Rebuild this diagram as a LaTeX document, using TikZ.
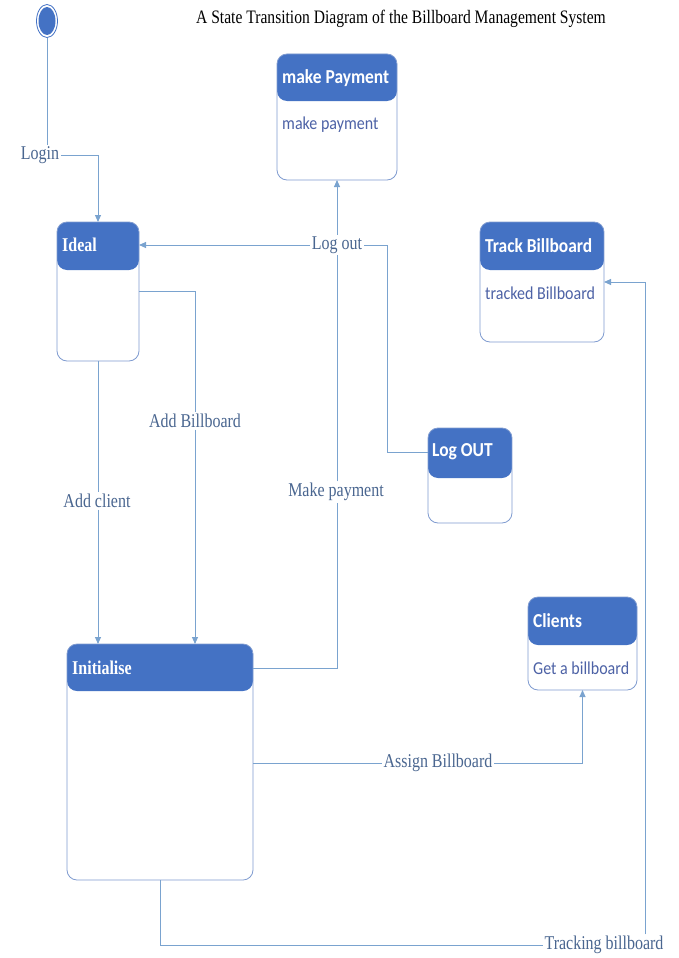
\documentclass[tikz,border=0pt]{standalone}
\usepackage{fontspec}
\setmainfont{Liberation Serif}[FakeStretch=0.82]
\newfontfamily\carlitofont{Carlito}[FakeStretch=0.88]
\usetikzlibrary{arrows.meta,calc,shapes.geometric}
\definecolor{hdr}{HTML}{4472C4}
\definecolor{bordc}{HTML}{7F9BD0}
\definecolor{connc}{HTML}{7AA3CF}
\definecolor{lblc}{HTML}{4A6690}
\definecolor{bodyc}{HTML}{4D62A6}
\begin{document}
\begin{tikzpicture}[x=1pt,y=-1pt,
  sbox/.style={draw=bordc, line width=0.8pt, rounded corners=10pt, fill=white,
    anchor=north west, inner sep=0pt, outer sep=0pt,
    path picture={\fill[hdr] (path picture bounding box.north west) rectangle ([yshift=-#1]path picture bounding box.north east);}},
  sbox/.default=48pt,
  stitle/.style={anchor=west, text=white, font=\bfseries\fontsize{19.5}{21}\selectfont, inner sep=0pt},
  ctitle/.style={anchor=west, text=white, font=\carlitofont\bfseries\fontsize{19.8}{21}\selectfont, inner sep=0pt},
  cbody/.style={anchor=west, text=bodyc, font=\carlitofont\fontsize{18.2}{20}\selectfont, inner sep=0pt},
  conn/.style={draw=connc, line width=0.9pt},
  arr/.style={conn, -{Triangle[width=6pt,length=7pt]}},
  lbl/.style={text=lblc, font=\fontsize{19.5}{21}\selectfont, fill=white, inner sep=1.5pt}
]
\useasboundingbox (0,0) rectangle (678,958);

% title
\node[font=\fontsize{19}{21}\selectfont, inner sep=0pt] (title) at (401,19) {A State Transition Diagram of the Billboard Management System};

% initial state
\node[ellipse, draw=hdr, line width=0.8pt, minimum width=21pt, minimum height=33pt, inner sep=0pt] (init) at (47,21) {};
\node[ellipse, fill=hdr, minimum width=17pt, minimum height=28pt, inner sep=0pt] (initdot) at (47,21) {};

% states
\node[sbox, minimum width=82pt, minimum height=139pt] (ideal) at (57,222) {};
\node[stitle] (idealt) at (62,245) {Ideal};

\node[sbox=47pt, minimum width=120pt, minimum height=126pt] (mp) at (277,54) {};
\node[ctitle] (mpt) at (282,78) {make Payment};
\node[cbody] (mpb) at (282,125) {make payment};

\node[sbox, minimum width=124pt, minimum height=120pt] (tb) at (480,222) {};
\node[ctitle] (tbt) at (485,246) {Track Billboard};
\node[cbody] (tbb) at (485,293) {tracked Billboard};

\node[sbox=50pt, minimum width=84pt, minimum height=95pt] (lo) at (428,428) {};
\node[ctitle] (lot) at (432,452) {Log OUT};

\node[sbox, minimum width=109pt, minimum height=93pt] (cl) at (528,597) {};
\node[ctitle] (clt) at (533,621) {Clients};
\node[cbody] (clb) at (533,668) {Get a billboard};

\node[sbox=47pt, minimum width=186pt, minimum height=236pt] (ini) at (67,644) {};
\node[stitle] (init2) at (72,668) {Initialise};

% labels
\node[lbl] (login) at (40,155) {Login};
\node[lbl] (logoutl) at (337,245) {Log out};
\node[lbl] (addbb) at (195,421) {Add Billboard};
\node[lbl] (addcl) at (97,501) {Add client};
\node[lbl] (mkpay) at (336,492) {Make payment};
\node[lbl] (assign) at (438,763) {Assign Billboard};
\node[lbl] (track) at (604,945) {Tracking billboard};

\coordinate (c1) at (387,245);
\coordinate (c2) at (645,282);
\coordinate (c3) at (337,668);

% connectors
\draw[conn] (init.south) -- (init.south |- login.north);
\draw[arr] (login.east) -| (ideal.north);

\draw[conn] ([yshift=-24pt]lo.north west) -| (c1) -- (logoutl.east);
\draw[arr] (logoutl.west) -- (logoutl.west -| ideal.east);

\draw[conn] ([yshift=-24pt]ini.north east) -- (c3) -- (c3 |- mkpay.south);
\draw[conn] (c3 |- mkpay.north) -- (c3 |- logoutl.south);
\draw[arr] (c3 |- logoutl.north) -- (c3 |- mp.south);

\draw[conn] ([yshift=-69pt]ideal.north east) -| (addbb.north);
\draw[arr] (addbb.south) -- (addbb.south |- ini.north);

\draw[conn] (ideal.south) -- (ideal.south |- addcl.north);
\draw[arr] (ideal.south |- addcl.south) -- (ideal.south |- ini.north);

\draw[conn] ([yshift=-119pt]ini.north east) -- (assign.west);
\draw[arr] (assign.east) -| (cl.south);

\draw[conn] (ini.south) |- (track.west);
\draw[arr] (c2 |- track.north) -- (c2) -- (c2 -| tb.east);
\end{tikzpicture}
\end{document}
